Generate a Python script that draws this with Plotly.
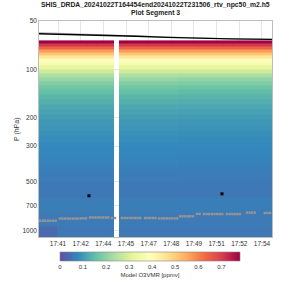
import plotly.graph_objects as go

# ---------------- data ----------------
# time in decimal minutes after 17:00 UTC
col_edges = [39.784, 40.936, 44.583, 44.903, 48.678, 54.691]   # heatmap column edges (gap column = no data)

p_edges = [66, 69, 72, 75, 78, 82, 86, 90, 95, 100, 106, 112, 119, 126, 134, 143, 153,
           164, 176, 190, 205, 222, 241, 262, 286, 313, 343, 377, 415, 458, 506, 560,
           620, 687, 762, 846, 940, 1045, 1100]

prof_a = [0.78, 0.71, 0.64, 0.57, 0.51, 0.45, 0.40, 0.36, 0.32, 0.28, 0.24, 0.21, 0.187,
          0.168, 0.153, 0.14, 0.13, 0.121, 0.113, 0.106, 0.1, 0.095, 0.09, 0.085, 0.08,
          0.076, 0.072, 0.068, 0.064, 0.061, 0.058, 0.057, 0.061, 0.064, 0.059, 0.059, 0.035, 0.035]
prof_b = [0.78, 0.71, 0.64, 0.57, 0.51, 0.45, 0.40, 0.36, 0.32, 0.28, 0.24, 0.21, 0.187,
          0.168, 0.153, 0.14, 0.13, 0.121, 0.113, 0.106, 0.1, 0.095, 0.09, 0.085, 0.08,
          0.076, 0.072, 0.068, 0.064, 0.061, 0.058, 0.057, 0.061, 0.064, 0.059, 0.059, 0.057, 0.057]
prof_c = [0.78, 0.71, 0.64, 0.57, 0.51, 0.45, 0.40, 0.36, 0.32, 0.28, 0.24, 0.21, 0.187,
          0.168, 0.153, 0.14, 0.13, 0.121, 0.113, 0.106, 0.1, 0.095, 0.09, 0.085, 0.08,
          0.076, 0.072, 0.068, 0.064, 0.061, 0.058, 0.057, 0.061, 0.064, 0.059, 0.059, 0.057, 0.057]
prof_d = [0.78, 0.71, 0.64, 0.57, 0.51, 0.45, 0.40, 0.36, 0.32, 0.28, 0.235, 0.205, 0.183,
          0.164, 0.149, 0.137, 0.127, 0.118, 0.111, 0.104, 0.098, 0.093, 0.088, 0.083, 0.079,
          0.075, 0.071, 0.067, 0.063, 0.06, 0.058, 0.057, 0.064, 0.064, 0.059, 0.059, 0.057, 0.057]

# surface pressure retrievals (gray dots)
sfc_t = [39.85, 40.02, 40.18, 40.35, 40.51, 40.68, 40.85,
         41.13, 41.29, 41.46, 41.63, 41.79, 41.96, 42.13, 42.29, 42.46, 42.63, 42.79,
         43.05, 43.21, 43.38, 43.55, 43.71, 43.88, 44.05, 44.21, 44.45, 44.65,
         45.09, 45.26, 45.43, 45.59, 45.76, 45.93, 46.09, 46.26,
         46.57, 46.73, 46.90, 47.07, 47.23,
         47.46, 47.63, 47.79, 47.96, 48.13, 48.29, 48.46, 48.63,
         48.81, 48.97, 49.14, 49.31, 49.47, 49.64,
         49.89, 50.06,
         50.34, 50.51, 50.67, 50.84, 51.01, 51.17, 51.34, 51.51,
         51.81, 51.98, 52.15, 52.31, 52.48, 52.64,
         53.09, 53.26, 53.42, 53.59,
         54.23, 54.40, 54.57]
sfc_p = [871, 871, 871, 871, 871, 871, 871,
         845, 845, 845, 845, 845, 845, 845, 845, 842, 842, 842,
         832, 832, 832, 832, 832, 832, 832, 832, 838, 838,
         838, 838, 838, 838, 838, 838, 838, 838,
         838, 838, 838, 838, 838,
         843, 843, 843, 843, 843, 843, 843, 843,
         818, 818, 818, 818, 818, 818,
         790, 790,
         792, 792, 792, 792, 792, 792, 792, 792,
         792, 792, 792, 792, 792, 792,
         776, 776, 776, 776,
         780, 780, 780]

# black markers
mark_t = [42.98, 51.49]
mark_p = [610, 593]

# upper boundary lines
top_t = [39.784, 42.0, 44.0, 46.0, 48.0, 50.0, 52.0, 54.691]
top_p = [60.0, 60.6, 61.4, 62.2, 63.2, 64.0, 64.6, 65.0]
top2_p = [59.0, 59.8, 60.8, 61.8, 62.9, 63.8, 64.5, 65.0]

tick_t = [41.0, 42.45, 43.9, 45.35, 46.8, 48.25, 49.7, 51.15, 52.6, 54.05]
tick_lbl = ["17:41", "17:42", "17:44", "17:45", "17:47", "17:48", "17:49", "17:51", "17:52", "17:54"]

y_ticks = [50, 100, 200, 300, 500, 700, 1000]
cb_ticks = [0, 0.1, 0.2, 0.3, 0.4, 0.5, 0.6, 0.7]

title1 = "SHIS_DRDA_20241022T164454end20241022T231506_rtv_npc50_m2.h5"
title2 = "Plot Segment 3"

# ---------------- figure ----------------
gap = [None] * len(prof_a)
z = [[prof_a[i], prof_b[i], gap[i], prof_c[i], prof_d[i]] for i in range(len(prof_a))]

FONT = "Liberation Sans, Arial, sans-serif"

fig = go.Figure()
fig.add_trace(go.Heatmap(
    x=col_edges, y=p_edges, z=z,
    colorscale="Spectral_r", zmin=0, zmax=0.78,
    hoverongaps=False,
    colorbar=dict(
        orientation="h", thickness=9, thicknessmode="pixels",
        len=180, lenmode="pixels",
        x=0.476, xanchor="center", y=-0.07, yanchor="top",
        xpad=0, ypad=0,
        outlinewidth=0.6, outlinecolor="#888888",
        tickvals=cb_ticks, ticks="",
        tickfont=dict(size=6, color="#333333", family=FONT),
        title=dict(text="Model O3VMR [ppmv]", side="bottom",
                   font=dict(size=6, color="#333333", family=FONT)),
    ),
))

fig.add_trace(go.Scatter(x=top_t, y=top2_p, mode="lines",
                         line=dict(color="#a8a8a8", width=0.8), showlegend=False))
fig.add_trace(go.Scatter(x=top_t, y=top_p, mode="lines",
                         line=dict(color="black", width=1.3), showlegend=False))
fig.add_trace(go.Scatter(x=sfc_t, y=sfc_p, mode="markers",
                         marker=dict(color="#959595", size=2.4, symbol="square"),
                         showlegend=False))
fig.add_trace(go.Scatter(x=mark_t, y=mark_p, mode="markers",
                         marker=dict(color="black", size=3, symbol="square"),
                         showlegend=False))

fig.add_annotation(text="<b>" + title1 + "</b>", xref="paper", yref="paper",
                   x=0.5, y=1.0, xanchor="center", yanchor="bottom", yshift=10,
                   showarrow=False, font=dict(size=6.8, color="#222222", family=FONT))
fig.add_annotation(text="<b>" + title2 + "</b>", xref="paper", yref="paper",
                   x=0.5, y=1.0, xanchor="center", yanchor="bottom", yshift=2,
                   showarrow=False, font=dict(size=6.8, color="#222222", family=FONT))
fig.add_annotation(text="P (hPa)", xref="paper", yref="paper", textangle=-90,
                   x=-0.094, y=0.5, xanchor="center", yanchor="middle",
                   showarrow=False, font=dict(size=7, color="#333333", family=FONT))

fig.update_layout(
    width=300, height=300,
    margin=dict(l=39, r=28, t=21, b=63),
    paper_bgcolor="white", plot_bgcolor="white",
    font=dict(family=FONT, size=7, color="#333333"),
    showlegend=False,
    xaxis=dict(range=[col_edges[0], col_edges[-1]], tickvals=tick_t, ticktext=tick_lbl,
               showgrid=True, gridcolor="#e6e6e6", gridwidth=0.6,
               showline=True, linecolor="#bdbdbd", linewidth=0.6, mirror=True,
               ticks="", zeroline=False,
               tickfont=dict(size=6.5, color="#333333")),
    yaxis=dict(type="log", range=[3.0414, 1.699], tickvals=y_ticks,
               ticktext=[str(v) for v in y_ticks],
               showgrid=True, gridcolor="#e6e6e6", gridwidth=0.6,
               showline=True, linecolor="#bdbdbd", linewidth=0.6, mirror=True,
               ticks="", zeroline=False,
               tickfont=dict(size=6.5, color="#333333")),
)

fig.write_html("out.html")
